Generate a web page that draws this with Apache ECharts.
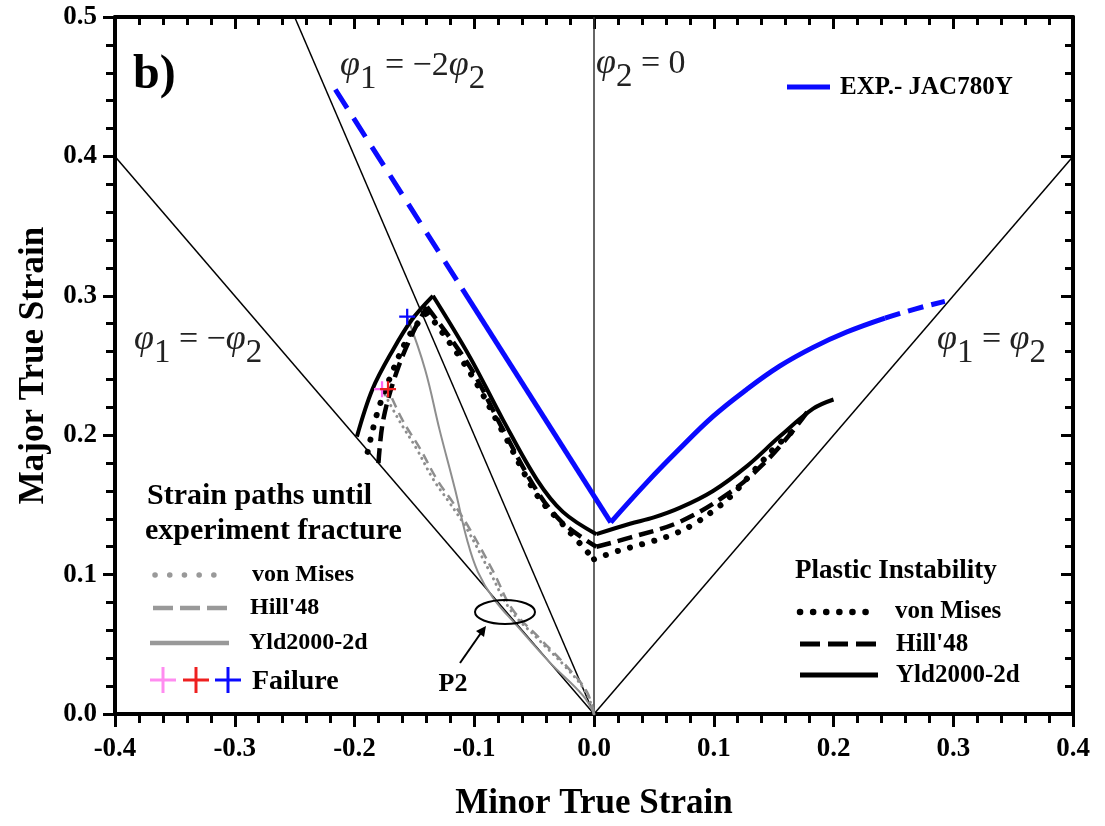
<!DOCTYPE html>
<html>
<head>
<meta charset="utf-8">
<title>Forming limit diagram - JAC780Y</title>
<script src="https://cdn.jsdelivr.net/npm/echarts@6/dist/echarts.min.js"></script>
<style>
  html, body { margin: 0; padding: 0; background: #ffffff; }
  #chart { width: 1105px; height: 826px; }
</style>
</head>
<body>
<div id="chart"></div>
<script>
// ---- axis ranges / ticks ----
const xRange = [-0.4, 0.4];
const yRange = [0.0, 0.5];
const tickStep = 0.1;

// ---- reference strain-ratio lines [minor, major] ----
const lineUniaxial = [[0, 0], [-0.4, 0.4]];     // phi1 = -phi2
const linePureShear = [[0, 0], [-0.25, 0.5]];   // phi1 = -2 phi2
const linePlaneStrain = [[0, 0], [0, 0.5]];     // phi2 = 0
const lineBiaxial = [[0, 0], [0.4, 0.4]];       // phi1 = phi2

// ---- experimental FLC (EXP.- JAC780Y) ----
const expExtrapLeft = [[-0.216, 0.448], [-0.110, 0.305]];
const expMeasuredLeft = [[-0.110, 0.305], [0.014, 0.1375]];
const expMeasuredRight = [
  [0.014, 0.1375], [0.044, 0.166], [0.070, 0.189], [0.0994, 0.2135], [0.127, 0.2325],
  [0.155, 0.2495], [0.183, 0.263], [0.211, 0.274], [0.243, 0.284]
];
const expExtrapRight = [[0.243, 0.284], [0.268, 0.2905], [0.293, 0.296]];

// ---- plastic instability limit curves (corner points: peak and valley) ----
const flcVonMises = [
  [-0.189, 0.188], [-0.181, 0.216], [-0.170, 0.242], [-0.156, 0.269], [-0.143, 0.285], [-0.139, 0.288],
  [-0.1036, 0.245], [-0.076, 0.202], [-0.0476, 0.157], [-0.026, 0.136], [0.0, 0.111],
  [0.019, 0.1167], [0.041, 0.122], [0.0635, 0.128], [0.083, 0.136], [0.103, 0.148],
  [0.114, 0.156], [0.132, 0.173], [0.151, 0.191], [0.170, 0.206]
];
const flcVonMisesCorners = [5, 10];
const flcHill48 = [
  [-0.180, 0.180], [-0.176, 0.211], [-0.165, 0.245], [-0.151, 0.274], [-0.1395, 0.292],
  [-0.1036, 0.249], [-0.076, 0.204], [-0.0476, 0.160], [-0.026, 0.137], [0.002, 0.120],
  [0.030, 0.1265], [0.072, 0.138], [0.1136, 0.159], [0.141, 0.179], [0.165, 0.202], [0.180, 0.219]
];
const flcHill48Corners = [4, 9];
const flcYld2000 = [
  [-0.198, 0.199], [-0.185, 0.233], [-0.168, 0.261], [-0.152, 0.283], [-0.1345, 0.300],
  [-0.1036, 0.256], [-0.076, 0.211], [-0.0476, 0.168], [-0.026, 0.145], [0.002, 0.129],
  [0.030, 0.1365], [0.050, 0.141], [0.072, 0.148], [0.0994, 0.160], [0.128, 0.178], [0.155, 0.199],
  [0.183, 0.219], [0.200, 0.2256]
];
const flcYld2000Corners = [4, 9];

// ---- strain paths until experimental fracture ----
const pathVonMises = [
  [0, 0], [-0.007, 0.016], [-0.024, 0.034], [-0.047, 0.054], [-0.070, 0.075], [-0.087, 0.102],
  [-0.106, 0.1325], [-0.121, 0.152], [-0.134, 0.168], [-0.148, 0.190], [-0.163, 0.211], [-0.177, 0.233]
];
const pathHill48 = [
  [0, 0], [-0.006, 0.016], [-0.0226, 0.034], [-0.045, 0.054], [-0.068, 0.075], [-0.084, 0.102],
  [-0.1036, 0.1325], [-0.118, 0.152], [-0.131, 0.168], [-0.145, 0.190], [-0.160, 0.211], [-0.172, 0.233]
];
const pathYld2000 = [
  [0, 0], [-0.009, 0.013], [-0.037, 0.037], [-0.064, 0.063], [-0.084, 0.083], [-0.097, 0.102],
  [-0.106, 0.125], [-0.116, 0.161], [-0.129, 0.204], [-0.141, 0.247], [-0.156, 0.285]
];

// ---- failure points ----
const failVonMises = [[-0.177, 0.233]];
const failHill48 = [[-0.172, 0.233]];
const failYld2000 = [[-0.156, 0.285]];

// ---- colours ----
const BLUE = '#0a0aff';
const GREY = '#8e8e8e';
const PINK = '#ff66f2';
const RED = '#ee2020';

const SERIF = '"Liberation Serif", "Times New Roman", serif';
const PLUS = 'path://M8.6,0 h2.8 v8.6 h8.6 v2.8 h-8.6 v8.6 h-2.8 v-8.6 h-8.6 v-2.8 h8.6 z';

const chart = echarts.init(document.getElementById('chart'), null, { renderer: 'canvas' });

function lineSeries(name, data, style, z, smooth) {
  return {
    name: name, type: 'line', data: data, symbol: 'none', showSymbol: false,
    smooth: smooth || false, silent: true, z: z || 2, lineStyle: style, animation: false
  };
}
// split a curve at its corner points into smooth branches sharing the corners
function branches(name, data, corners, style, z) {
  const cuts = [0].concat(corners, [data.length - 1]);
  const out = [];
  for (let i = 0; i < cuts.length - 1; i++) {
    out.push(lineSeries(name, data.slice(cuts[i], cuts[i + 1] + 1), style, z, 0.35));
  }
  return out;
}
function crossSeries(name, data, color) {
  return {
    name: name, type: 'scatter', data: data, symbol: PLUS, symbolSize: 16,
    itemStyle: { color: color, opacity: 1 }, silent: true, z: 6, animation: false
  };
}

const tickFmt = v => v.toFixed(1);
function valueAxis(extra) {
  return Object.assign({
    type: 'value', interval: tickStep,
    axisLine: { show: true, onZero: false, lineStyle: { color: '#000', width: 4 } },
    splitLine: { show: false }
  }, extra);
}

const option = {
  backgroundColor: '#ffffff',
  animation: false,
  grid: { left: 115, right: 32, top: 17, bottom: 111 },
  xAxis: [
    valueAxis({
      min: xRange[0], max: xRange[1], position: 'bottom',
      name: 'Minor True Strain', nameLocation: 'middle', nameGap: 72,
      nameTextStyle: { fontFamily: SERIF, fontWeight: 'bold', fontSize: 35, color: '#000' },
      axisTick: { show: true, inside: false, length: 13, lineStyle: { color: '#000', width: 3 } },
      minorTick: { show: true, splitNumber: 5, length: 9, lineStyle: { color: '#000', width: 3 } },
      axisLabel: { show: true, margin: 22, formatter: tickFmt,
        fontFamily: SERIF, fontWeight: 'bold', fontSize: 27, color: '#000' }
    }),
    valueAxis({
      min: xRange[0], max: xRange[1], position: 'top',
      axisTick: { show: true, inside: true, length: 12, lineStyle: { color: '#000', width: 3 } },
      minorTick: { show: true, splitNumber: 5, length: 8, lineStyle: { color: '#000', width: 3 } },
      axisLabel: { show: false }
    })
  ],
  yAxis: [
    valueAxis({
      min: yRange[0], max: yRange[1], position: 'left',
      name: 'Major True Strain', nameLocation: 'middle', nameGap: 64,
      nameTextStyle: { fontFamily: SERIF, fontWeight: 'bold', fontSize: 35, color: '#000' },
      axisTick: { show: true, inside: false, length: 12, lineStyle: { color: '#000', width: 3 } },
      minorTick: { show: true, splitNumber: 5, length: 9, lineStyle: { color: '#000', width: 3 } },
      axisLabel: { show: true, margin: 18, formatter: tickFmt,
        fontFamily: SERIF, fontWeight: 'bold', fontSize: 27, color: '#000' }
    }),
    valueAxis({
      min: yRange[0], max: yRange[1], position: 'right',
      axisTick: { show: true, inside: true, length: 12, lineStyle: { color: '#000', width: 3 } },
      minorTick: { show: true, splitNumber: 5, length: 8, lineStyle: { color: '#000', width: 3 } },
      axisLabel: { show: false }
    })
  ],
  series: [
    // strain-ratio guide lines
    lineSeries('phi1=-phi2', lineUniaxial, { color: '#000', width: 1.5 }, 1),
    lineSeries('phi1=-2phi2', linePureShear, { color: '#000', width: 1.5 }, 1),
    lineSeries('phi2=0', linePlaneStrain, { color: '#333', width: 1.5 }, 1),
    lineSeries('phi1=phi2', lineBiaxial, { color: '#000', width: 1.5 }, 1),

    // experimental forming limit curve
    lineSeries('EXP.- JAC780Y', expExtrapLeft, { color: BLUE, width: 5, type: [22, 12] }, 3),
    lineSeries('EXP.- JAC780Y', expMeasuredLeft, { color: BLUE, width: 5 }, 3),
    lineSeries('EXP.- JAC780Y', expMeasuredRight, { color: BLUE, width: 5 }, 3, 0.4),
    lineSeries('EXP.- JAC780Y', expExtrapRight, { color: BLUE, width: 5, type: [16, 8] }, 3, 0.4),

    // plastic instability predictions
    ...branches('PI von Mises', flcVonMises, flcVonMisesCorners, { color: '#000', width: 6, type: [0.1, 12.5], cap: 'round' }, 4),
    ...branches('PI Hill48', flcHill48, flcHill48Corners, { color: '#000', width: 4.5, type: [15, 7] }, 4),
    ...branches('PI Yld2000-2d', flcYld2000, flcYld2000Corners, { color: '#000', width: 4 }, 4),

    // strain paths
    lineSeries('SP von Mises', pathVonMises, { color: GREY, width: 3, type: [0.1, 6], cap: 'round' }, 3, 0.4),
    lineSeries('SP Hill48', pathHill48, { color: GREY, width: 2.5, type: [10, 6] }, 3, 0.4),
    lineSeries('SP Yld2000-2d', pathYld2000, { color: GREY, width: 2 }, 3, 0.4),

    // failure points
    crossSeries('Failure von Mises', failVonMises, PINK),
    crossSeries('Failure Hill48', failHill48, RED),
    crossSeries('Failure Yld2000-2d', failYld2000, BLUE)
  ]
};

chart.setOption(option);

// ---- annotations and legends ----
function txt(x, y, text, size, opts) {
  opts = opts || {};
  return {
    type: 'text', x: x, y: y, z: 20, silent: true,
    style: {
      text: text, fill: opts.fill || '#000',
      font: (opts.style || 'normal') + ' ' + (opts.weight || 'bold') + ' ' + size + 'px ' + SERIF,
      align: opts.align || 'left', verticalAlign: 'middle'
    }
  };
}
function seg(x1, y1, x2, y2, stroke, width, dash, cap) {
  return {
    type: 'line', z: 20, silent: true,
    shape: { x1: x1, y1: y1, x2: x2, y2: y2 },
    style: { stroke: stroke, lineWidth: width, lineDash: dash || null, lineCap: cap || 'butt' }
  };
}
function plus(cx, cy, size, width, color) {
  const h = size / 2;
  return [seg(cx - h, cy, cx + h, cy, color, width), seg(cx, cy - h, cx, cy + h, color, width)];
}
function phiLabel(x, y, parts) {
  // parts: [kind, string]; kind 'p' = italic phi, 's' = subscript, 't' = plain
  const text = parts.map(p => '{' + p[0] + '|' + p[1] + '}').join('');
  return {
    type: 'text', x: x, y: y, z: 20, silent: true,
    style: {
      text: text, align: 'left', verticalAlign: 'middle',
      rich: {
        p: { fontFamily: SERIF, fontStyle: 'italic', fontSize: 36, fill: '#222' },
        s: { fontFamily: SERIF, fontSize: 33, fill: '#222', padding: [26, 0, 0, 0] },
        t: { fontFamily: SERIF, fontSize: 34, fill: '#222' }
      }
    }
  };
}

const graphics = [
  txt(133, 76, 'b)', 48),

  phiLabel(340, 66, [['p', 'φ'], ['s', '1'], ['t', ' = −2'], ['p', 'φ'], ['s', '2']]),
  phiLabel(596, 64, [['p', 'φ'], ['s', '2'], ['t', ' = 0']]),
  phiLabel(134, 340, [['p', 'φ'], ['s', '1'], ['t', ' = −'], ['p', 'φ'], ['s', '2']]),
  phiLabel(937, 340, [['p', 'φ'], ['s', '1'], ['t', ' = '], ['p', 'φ'], ['s', '2']]),

  // experimental legend
  seg(787, 87, 830, 87, BLUE, 5),
  txt(840, 88, 'EXP.- JAC780Y', 25),

  // strain path legend
  txt(147, 496, 'Strain paths until', 30),
  txt(145, 531, 'experiment fracture', 30),
  seg(155, 575, 228, 575, '#999', 5.5, [0.1, 14.6], 'round'),
  txt(252, 575, 'von Mises', 24),
  seg(153, 608, 228, 608, '#999', 4.5, [20, 7]),
  txt(250, 608, "Hill'48", 24),
  seg(150, 643, 229, 643, '#999', 4.5),
  txt(249, 643, 'Yld2000-2d', 24),
  ...plus(163, 680, 26, 3, '#ff8cf0'),
  ...plus(196, 680, 26, 3, RED),
  ...plus(228, 680, 26, 3, BLUE),
  txt(252, 682, 'Failure', 28),

  // plastic instability legend
  txt(795, 571, 'Plastic Instability', 27),
  seg(800, 612, 877, 612, '#000', 6.5, [0.1, 13], 'round'),
  txt(895, 612, 'von Mises', 25),
  seg(800, 644, 877, 644, '#000', 5, [20, 8]),
  txt(896, 645, "Hill'48", 25),
  seg(800, 675, 878, 675, '#000', 5),
  txt(896, 676, 'Yld2000-2d', 25),

  // P2 marker
  {
    type: 'ellipse', z: 20, silent: true,
    shape: { cx: 505, cy: 612, rx: 30, ry: 12 },
    style: { fill: 'none', stroke: '#000', lineWidth: 2 }
  },
  seg(460, 663, 483, 630, '#000', 2),
  {
    type: 'polygon', z: 20, silent: true,
    shape: { points: [[486, 626], [476, 631], [484, 637]] },
    style: { fill: '#000' }
  },
  txt(453, 684, 'P2', 26, { align: 'center' })
];

chart.setOption({ graphic: { elements: graphics } });
</script>
</body>
</html>
